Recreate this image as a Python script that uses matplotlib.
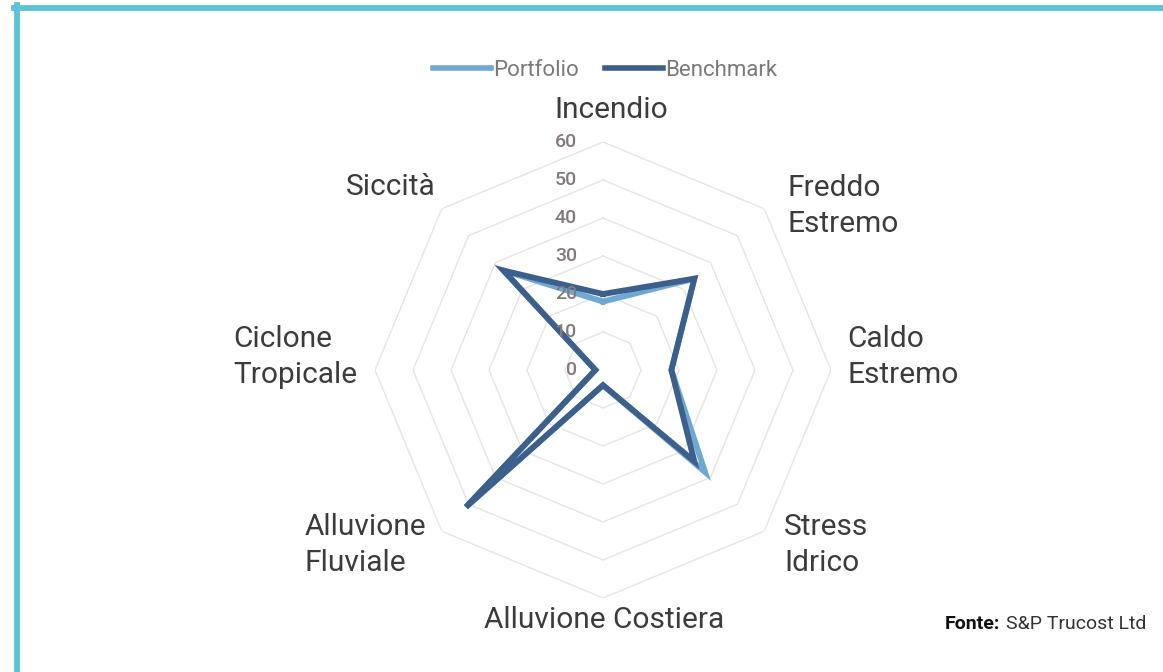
import numpy as np
import matplotlib
matplotlib.use("Agg")
import matplotlib.pyplot as plt
from matplotlib.lines import Line2D

# Data
categories = ["Incendio", "Freddo\nEstremo", "Caldo\nEstremo", "Stress\nIdrico",
              "Alluvione Costiera", "Alluvione\nFluviale", "Ciclone\nTropicale", "Siccità"]
portfolio = [18, 34, 18, 38, 4, 51, 2, 37]
benchmark = [20, 34, 18, 34, 4, 51, 2, 37]
rings = [10, 20, 30, 40, 50, 60]
tick_labels = ["0", "10", "20", "30", "40", "50", "60"]

W, H = 1163, 672
fig = plt.figure(figsize=(W / 100, H / 100), dpi=100)

cx, cy, R = 603, 370, 228
ax = fig.add_axes([(cx - R) / W, (H - cy - R) / H, 2 * R / W, 2 * R / H], projection="polar")
ax.set_theta_zero_location("N")
ax.set_theta_direction(-1)
ax.set_ylim(0, 60)
ax.axis("off")

n = len(categories)
theta = np.arange(n) * 2 * np.pi / n
theta_closed = np.append(theta, theta[0])

# octagon grid
for r in rings:
    ax.plot(theta_closed, [r] * (n + 1), color="#e4e4e4", lw=1.0, zorder=1)

col_port = "#6fa9d2"
col_bench = "#3c5f8c"
ax.plot(theta_closed, portfolio + portfolio[:1], color=col_port, lw=4.2,
        solid_joinstyle="miter", zorder=3)
ax.plot(theta_closed, benchmark + benchmark[:1], color=col_bench, lw=4.2,
        solid_joinstyle="miter", zorder=4)

# radial tick labels, placed just left of the vertical axis
for i, t in enumerate(tick_labels):
    x, y = ax.transData.transform((0, i * 10))
    xf, yf = fig.transFigure.inverted().transform((x - 26, y))
    fig.text(xf, yf, t, fontsize=14, family="Roboto", fontweight="medium",
             color="#85797f", ha="right", va="center", zorder=2)

# category labels (pixel positions from top-left)
lab_font = dict(family="Roboto", fontsize=21.5, fontweight="normal", color="#3c3c3c",
                linespacing=1.35)
label_pos = [
    (611, 110, "center", "center"),
    (787, 206, "left", "center"),
    (847, 357, "left", "center"),
    (784, 545, "left", "center"),
    (604, 620, "center", "center"),
    (305, 545, "left", "center"),
    (233, 357, "left", "center"),
    (346, 187, "left", "center"),
]
for lab, (x, y, ha, va) in zip(categories, label_pos):
    fig.text(x / W, 1 - y / H, lab, ha=ha, va=va, **lab_font)

# legend
handles = [Line2D([], [], color=col_port, lw=4), Line2D([], [], color=col_bench, lw=4)]
leg = fig.legend(handles, ["Portfolio", "Benchmark"], loc="center",
                 bbox_to_anchor=(605 / W, 1 - 70 / H), ncol=2, frameon=False,
                 handlelength=2.6, handletextpad=0.1, columnspacing=1.2,
                 prop={"family": "Roboto", "size": 16})
for t in leg.get_texts():
    t.set_color("#7a7a7a")

# source
t1 = fig.text(945 / W, 1 - 624 / H, "Fonte:", family="Roboto", fontweight="bold",
              fontsize=14, color="#111111", ha="left", va="center")
fig.canvas.draw()
bb = t1.get_window_extent()
fig.text((bb.x1 + 6) / W, 1 - 624 / H, "S&P Trucost Ltd", family="Roboto",
         fontsize=14, color="#333333", ha="left", va="center")

# frame lines
frame_col = "#5bc2d7"
fig.add_artist(Line2D([16.5 / W, 16.5 / W], [0, 1 - 5 / H], color=frame_col, lw=4.2,
                      transform=fig.transFigure))
fig.add_artist(Line2D([14 / W, 1], [1 - 8 / H, 1 - 8 / H], color=frame_col, lw=4.2,
                      transform=fig.transFigure))

fig.savefig("out.png", dpi=100)
